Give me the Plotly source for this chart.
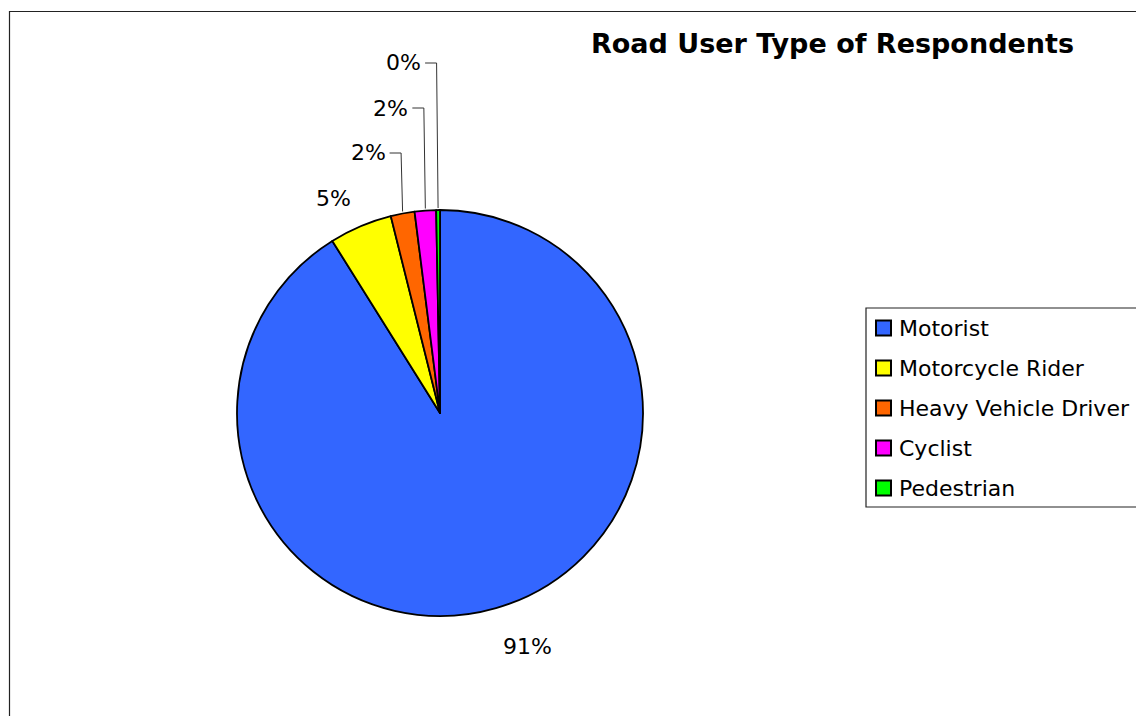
import math
import plotly.graph_objects as go

# ---- data ----
categories = ["Motorist", "Motorcycle Rider", "Heavy Vehicle Driver", "Cyclist", "Pedestrian"]
values = [91.1, 5.0, 1.9, 1.7, 0.3]
colors = ["#3366FF", "#FFFF00", "#FF6600", "#FF00FF", "#00FF00"]
title_text = "Road User Type of Respondents"

# ---- layout constants (pixels, screen coordinates) ----
WIN_W, WIN_H = 1144, 724
OFF = 8  # page body margin offset
FW, FH = WIN_W - 2 * OFF, WIN_H - 2 * OFF  # figure fits the window without scrollbars
CX, CY, R = 440, 413, 203
FONT = "DejaVu Sans, Arial, sans-serif"
FS = 22

def px(x):
    return (x - OFF) / FW

def py(y):
    return 1 - (y - OFF) / FH

fig = go.Figure()
fig.add_trace(go.Pie(
    labels=categories, values=values, sort=False, direction="clockwise", rotation=0,
    marker=dict(colors=colors, line=dict(color="black", width=1.8)),
    textinfo="none", hoverinfo="label+percent", showlegend=False,
    domain=dict(x=[px(CX - R), px(CX + R)], y=[py(CY + R), py(CY - R)]),
))

total = sum(values)
pcts = [v / total * 100 for v in values]
labels_txt = [f"{round(p):.0f}%" for p in pcts]

annotations = []
shapes = []

def ann(x, y, text, size=FS, xanchor="center", bold=False):
    annotations.append(dict(x=px(x), y=py(y), xref="paper", yref="paper",
                            text=f"<b>{text}</b>" if bold else text,
                            showarrow=False, xanchor=xanchor, yanchor="middle",
                            font=dict(family=FONT, size=size, color="black")))

# frame (left and top edges visible; others are outside the view)
shapes.append(dict(type="path", xref="paper", yref="paper",
                   path=f"M {px(9.5)} {py(WIN_H + 40)} L {px(9.5)} {py(11.5)} L {px(WIN_W + 40)} {py(11.5)}",
                   line=dict(color="#222", width=1.2)))

# slice mid angles
cum = 0
mids = []
for v in values:
    mids.append((cum + v / 2) / total * 2 * math.pi)
    cum += v

# big slice label
a = mids[0]
ann(CX + math.sin(a) * (R + 40) + 20, CY - math.cos(a) * (R + 40), labels_txt[0])

# small slices: stacked labels with leader lines
label_levels = [None, 198, 153, 108, 63]
for i in range(1, len(values)):
    a = mids[i]
    ex = CX + math.sin(a) * R
    ey = CY - math.cos(a) * R
    yl = label_levels[i]
    if i == 1:
        ann(ex - 27, yl, labels_txt[i])
        continue
    hx = ex - 13
    shapes.append(dict(type="path", xref="paper", yref="paper",
                       path=f"M {px(ex)} {py(ey - 2)} L {px(ex - 1.5)} {py(yl)} L {px(hx)} {py(yl)}",
                       line=dict(color="#333", width=1)))
    ann(hx - 2, yl, labels_txt[i], xanchor="right")

# title
ann(832, 43, title_text, size=27, bold=True)

# legend (manual)
LX0, LY0, LY1 = 866, 308, 507
shapes.append(dict(type="rect", xref="paper", yref="paper", x0=px(LX0), x1=px(WIN_W + 40),
                   y0=py(LY1), y1=py(LY0), line=dict(width=0), fillcolor="white"))
shapes.append(dict(type="path", xref="paper", yref="paper",
                   path=f"M {px(WIN_W + 40)} {py(LY0)} L {px(LX0)} {py(LY0)} L {px(LX0)} {py(LY1)} L {px(WIN_W + 40)} {py(LY1)}",
                   line=dict(color="#222", width=1.2)))
for i, (c, name) in enumerate(zip(colors, categories)):
    yc = 328 + 40 * i
    shapes.append(dict(type="rect", xref="paper", yref="paper", x0=px(876), x1=px(891),
                       y0=py(yc + 7.5), y1=py(yc - 7.5), line=dict(color="black", width=2), fillcolor=c))
    ann(897, yc, name, size=22, xanchor="left")

fig.update_layout(
    width=FW, height=FH, autosize=False,
    margin=dict(l=0, r=0, t=0, b=0),
    paper_bgcolor="white", plot_bgcolor="white",
    shapes=shapes, annotations=annotations, showlegend=False,
)
fig.write_html("out.html")
